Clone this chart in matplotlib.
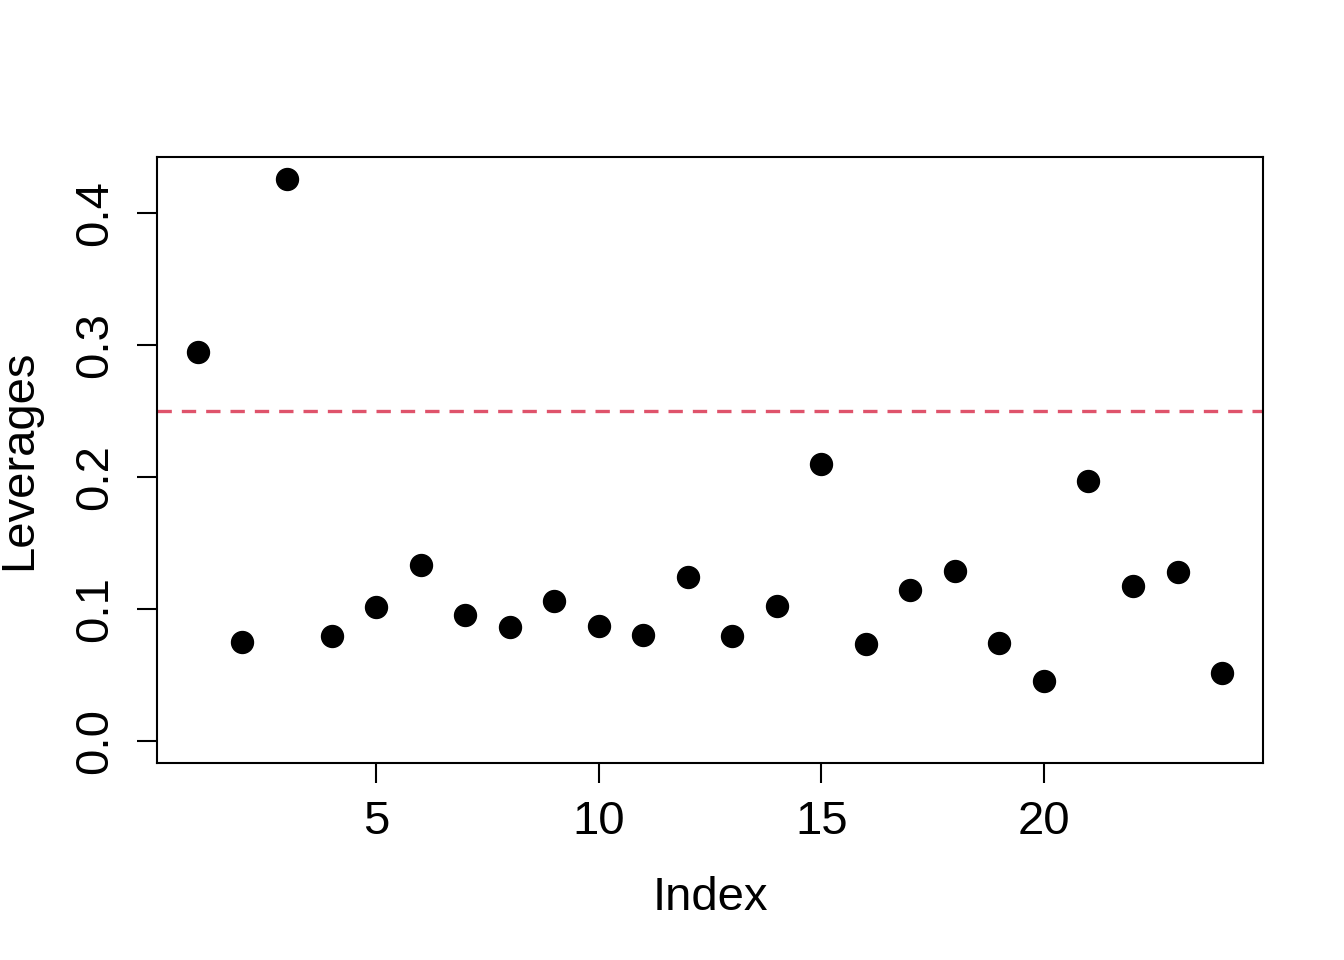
import matplotlib
matplotlib.use("Agg")
import matplotlib.pyplot as plt
import numpy as np

plt.rcParams["font.family"] = ["Liberation Sans", "DejaVu Sans"]

# Leverage values
index = np.arange(1, 25)
leverages = [0.295, 0.075, 0.426, 0.079, 0.101, 0.133, 0.095, 0.086,
             0.106, 0.087, 0.080, 0.124, 0.079, 0.102, 0.210, 0.073,
             0.114, 0.129, 0.074, 0.045, 0.197, 0.117, 0.128, 0.051]
cutoff = 0.25
x_ticks = [5, 10, 15, 20]
y_ticks = [0.0, 0.1, 0.2, 0.3, 0.4]

fig = plt.figure(figsize=(13.44, 9.6), dpi=100)
ax = fig.add_axes([157 / 1344, 1 - 763 / 960, (1263 - 157) / 1344, (763 - 157) / 960])

ax.plot(index, leverages, "o", color="black", markersize=15.8, linestyle="none")
ax.axhline(cutoff, color="#DF536B", linewidth=2.4, linestyle=(0, (4.3, 3.0)))

ax.set_xlim(0.08, 24.92)
ax.set_ylim(-0.017, 0.4428)
ax.set_xticks(x_ticks)
ax.set_yticks(y_ticks)
ax.set_yticklabels(["0.0", "0.1", "0.2", "0.3", "0.4"], rotation=90, va="center")

ax.tick_params(axis="both", length=14.4, width=1.5, labelsize=34, direction="out")
ax.tick_params(axis="x", pad=12)
ax.tick_params(axis="y", pad=14)
for s in ax.spines.values():
    s.set_linewidth(1.5)

ax.set_xlabel("Index", fontsize=34, labelpad=23)
ax.set_ylabel("Leverages", fontsize=34, labelpad=23)

fig.savefig("out.png", dpi=100)
